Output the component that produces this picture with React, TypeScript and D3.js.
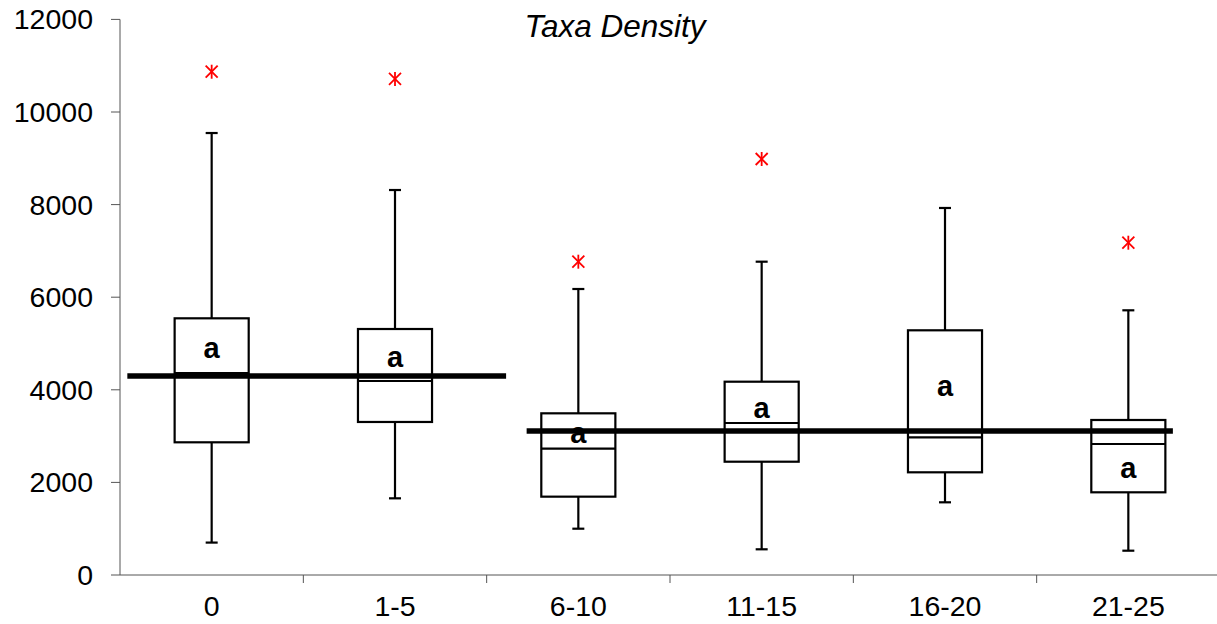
import React from "react";
import * as d3 from "d3";

const categories = ["0", "1-5", "6-10", "11-15", "16-20", "21-25"];
const whiskerLow = [700, 1656, 1000, 555, 1570, 525];
const q1 = [2866, 3305, 1692, 2447, 2218, 1786];
const median = [4360, 4190, 2728, 3283, 2974, 2829];
const q3 = [5544, 5313, 3492, 4175, 5285, 3348];
const whiskerHigh = [9546, 8315, 6177, 6767, 7927, 5717];
const outliers = [10870, 10713, 6767, 8985, null, 7177];
const groupLabels = ["a", "a", "a", "a", "a", "a"];
const labelValues = [4903, 4708, 3067, 3613, 4088, 2304];
const yTicks = [0, 2000, 4000, 6000, 8000, 10000, 12000];
// mean lines: [startIndex, endIndex, value] in category-index units
const meanLineStart = [-0.46, 1.718];
const meanLineEnd = [1.606, 5.243];
const meanLineValue = [4300, 3110];
const title = "Taxa Density";

const W = 1217;
const H = 624;
const left = 120;
const right = 1220;
const top = 19.4;
const bottom = 575;

export default function App() {
  const x = d3.scaleBand<string>().domain(categories).range([left, right]).padding(0);
  const xi = d3.scaleLinear().domain([-0.5, categories.length - 0.5]).range([left, right]);
  const y = d3.scaleLinear().domain([0, 12000]).range([bottom, top]);
  const bw = x.bandwidth() * 0.404;
  const capW = 12;
  const font = "'Liberation Sans', Arial, sans-serif";

  return (
    <svg
      width={W}
      height={H}
      style={{ position: "absolute", left: 0, top: 0, display: "block", background: "#fff" }}
    >
      <text x={615} y={37} textAnchor="middle" fontFamily={font} fontStyle="italic" fontSize={31.5}>
        {title}
      </text>
      {/* y axis */}
      <line x1={left} x2={left} y1={top} y2={bottom} stroke="#555" strokeWidth={1} />
      {yTicks.map((t) => (
        <g key={t}>
          <line x1={left - 9} x2={left} y1={y(t)} y2={y(t)} stroke="#555" strokeWidth={1} />
          <text
            x={93}
            y={y(t)}
            textAnchor="end"
            dominantBaseline="central"
            fontFamily={font}
            fontSize={28.5}
            fill="#000"
          >
            {t}
          </text>
        </g>
      ))}
      {/* x axis */}
      <line x1={left} x2={right} y1={bottom} y2={bottom} stroke="#555" strokeWidth={1} />
      {categories.map((c, i) => (
        <g key={c}>
          {i > 0 && (
            <line x1={x(c)!} x2={x(c)!} y1={bottom} y2={bottom + 8} stroke="#555" strokeWidth={1} />
          )}
          <text
            x={x(c)! + x.bandwidth() / 2}
            y={616}
            textAnchor="middle"
            fontFamily={font}
            fontSize={28.5}
          >
            {c}
          </text>
        </g>
      ))}
      {/* boxes */}
      {categories.map((c, i) => {
        const cx = x(c)! + x.bandwidth() / 2;
        return (
          <g key={"b" + c} stroke="#000" strokeWidth={2.2} fill="none">
            <line x1={cx} x2={cx} y1={y(whiskerHigh[i])} y2={y(q3[i])} />
            <line x1={cx} x2={cx} y1={y(q1[i])} y2={y(whiskerLow[i])} />
            <line x1={cx - capW / 2} x2={cx + capW / 2} y1={y(whiskerHigh[i])} y2={y(whiskerHigh[i])} />
            <line x1={cx - capW / 2} x2={cx + capW / 2} y1={y(whiskerLow[i])} y2={y(whiskerLow[i])} />
            <rect x={cx - bw / 2} y={y(q3[i])} width={bw} height={y(q1[i]) - y(q3[i])} fill="#fff" />
            <line x1={cx - bw / 2} x2={cx + bw / 2} y1={y(median[i])} y2={y(median[i])} />
          </g>
        );
      })}
      {/* group letters */}
      {categories.map((c, i) => (
        <text
          key={"l" + c}
          x={x(c)! + x.bandwidth() / 2}
          y={y(labelValues[i])}
          textAnchor="middle"
          dominantBaseline="central"
          fontFamily={font}
          fontWeight="bold"
          fontSize={29}
        >
          {groupLabels[i]}
        </text>
      ))}
      {/* mean lines */}
      {meanLineValue.map((v, k) => (
        <line
          key={"m" + k}
          x1={xi(meanLineStart[k])}
          x2={xi(meanLineEnd[k])}
          y1={y(v)}
          y2={y(v)}
          stroke="#000"
          strokeWidth={5.5}
        />
      ))}
      {/* outliers */}
      {categories.map((c, i) => {
        const v = outliers[i];
        if (v == null) return null;
        const cx = x(c)! + x.bandwidth() / 2;
        const cy = y(v);
        const r = 6;
        return (
          <g key={"o" + c} stroke="#ff0000" strokeWidth={1.8}>
            <line x1={cx - r} x2={cx + r} y1={cy - r} y2={cy + r} />
            <line x1={cx - r} x2={cx + r} y1={cy + r} y2={cy - r} />
            <line x1={cx} x2={cx} y1={cy - r - 1} y2={cy + r + 1} />
          </g>
        );
      })}
    </svg>
  );
}
